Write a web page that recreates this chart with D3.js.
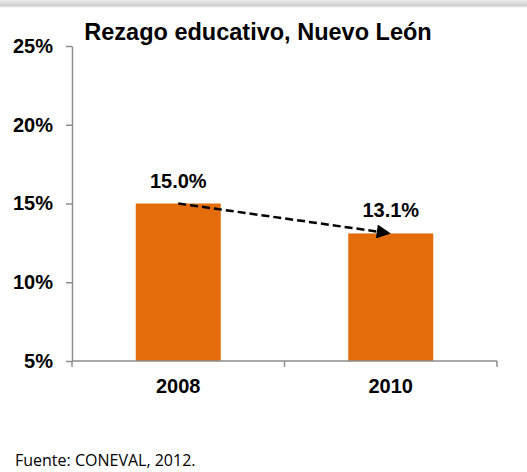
<!DOCTYPE html>
<html>
<head>
<meta charset="utf-8">
<script src="https://cdn.jsdelivr.net/npm/d3@7"></script>
<style>
  body { margin: 0; background: #fff; }
  svg { display: block; }
  .axis path, .axis line { stroke: #8c8c8c; stroke-width: 1.5; }
  .axis text { font-family: "Liberation Sans", Arial, sans-serif; font-weight: bold; font-size: 20px; fill: #000; }
  .value { font-family: "Liberation Sans", Arial, sans-serif; font-weight: 700; font-size: 20px; fill: #000; }
</style>
</head>
<body>
<div id="chart"></div>
<script>
/* DATA */
const years = ["2008", "2010"];
const values = [15.0, 13.1];
const yTicks = [5, 10, 15, 20, 25];
const title = "Rezago educativo, Nuevo León";
const source = "Fuente: CONEVAL, 2012.";

/* CONSTANTS */
const width = 527,
  height = 472,
  margin = { top: 46, bottom: 111, left: 72, right: 30 },
  barColor = "#E46C0A";

const svg = d3.select("#chart")
  .append("svg")
  .attr("width", width)
  .attr("height", height);

// grey shadow strip along the top edge
const defs = svg.append("defs");
const grad = defs.append("linearGradient")
  .attr("id", "topShade")
  .attr("x1", 0).attr("y1", 0).attr("x2", 0).attr("y2", 1);
grad.append("stop").attr("offset", "0%").attr("stop-color", "#ececec");
grad.append("stop").attr("offset", "70%").attr("stop-color", "#cfcfcf");
grad.append("stop").attr("offset", "100%").attr("stop-color", "#ffffff");
svg.append("rect")
  .attr("x", 0).attr("y", 0)
  .attr("width", width).attr("height", 8)
  .attr("fill", "url(#topShade)");

// arrow marker
defs.append("marker")
  .attr("id", "arrow")
  .attr("viewBox", "0 0 10 10")
  .attr("refX", 10).attr("refY", 5)
  .attr("markerUnits", "userSpaceOnUse")
  .attr("markerWidth", 18).attr("markerHeight", 14)
  .attr("orient", "auto")
  .append("path")
  .attr("d", "M0,0 L10,5 L0,10 Z")
  .attr("fill", "#000");

/* SCALES */
const xScale = d3.scaleBand()
  .domain(years)
  .range([margin.left, width - margin.right])
  .padding(0);

const yScale = d3.scaleLinear()
  .domain([5, 25])
  .range([height - margin.bottom, margin.top]);

const barW = xScale.bandwidth() * 0.4;
const cx = d => xScale(d) + xScale.bandwidth() / 2;
const rows = years.map((y, i) => ({ year: y, value: values[i] }));

/* BARS */
svg.selectAll("rect.bar")
  .data(rows)
  .join("rect")
  .attr("class", "bar")
  .attr("x", d => cx(d.year) - barW / 2)
  .attr("y", d => yScale(d.value))
  .attr("width", barW)
  .attr("height", d => yScale(5) - yScale(d.value))
  .attr("fill", barColor);

/* AXES */
svg.append("g")
  .attr("class", "axis y-axis")
  .attr("transform", `translate(${margin.left},0)`)
  .call(d3.axisLeft(yScale)
    .tickValues(yTicks)
    .tickSize(6)
    .tickSizeOuter(0)
    .tickPadding(13)
    .tickFormat(d => d + "%"));

const xg = svg.append("g")
  .attr("class", "axis x-axis")
  .attr("transform", `translate(0,${yScale(5)})`);
xg.append("line")
  .attr("x1", margin.left).attr("x2", width - margin.right)
  .attr("y1", 0).attr("y2", 0);
const bounds = [xScale(years[0]), ...years.map(d => xScale(d) + xScale.bandwidth())];
xg.selectAll("line.tick")
  .data(bounds)
  .join("line")
  .attr("class", "tick")
  .attr("x1", d => d).attr("x2", d => d)
  .attr("y1", 0).attr("y2", 6);
xg.selectAll("text")
  .data(years)
  .join("text")
  .attr("x", d => cx(d))
  .attr("y", 32)
  .attr("text-anchor", "middle")
  .text(d => d);

/* DATA LABELS */
svg.selectAll("text.value")
  .data(rows)
  .join("text")
  .attr("class", "value")
  .attr("x", d => cx(d.year))
  .attr("y", d => yScale(d.value) - 16)
  .attr("text-anchor", "middle")
  .text(d => d.value.toFixed(1) + "%");

/* TREND ARROW */
svg.append("line")
  .attr("x1", cx(years[0]))
  .attr("y1", yScale(values[0]))
  .attr("x2", cx(years[1]))
  .attr("y2", yScale(values[1]))
  .attr("stroke", "#000")
  .attr("stroke-width", 2.5)
  .attr("stroke-dasharray", "8,4")
  .attr("marker-end", "url(#arrow)");

/* TITLE & SOURCE */
svg.append("text")
  .attr("x", 258)
  .attr("y", 40)
  .attr("text-anchor", "middle")
  .style("font-family", "'Liberation Sans', Arial, sans-serif")
  .style("font-weight", "bold")
  .style("font-size", "23.5px")
  .text(title);

svg.append("text")
  .attr("x", 15)
  .attr("y", 466)
  .style("font-family", "'Open Sans', sans-serif")
  .style("font-size", "16px")
  .style("fill", "#000")
  .text(source);
</script>
</body>
</html>
